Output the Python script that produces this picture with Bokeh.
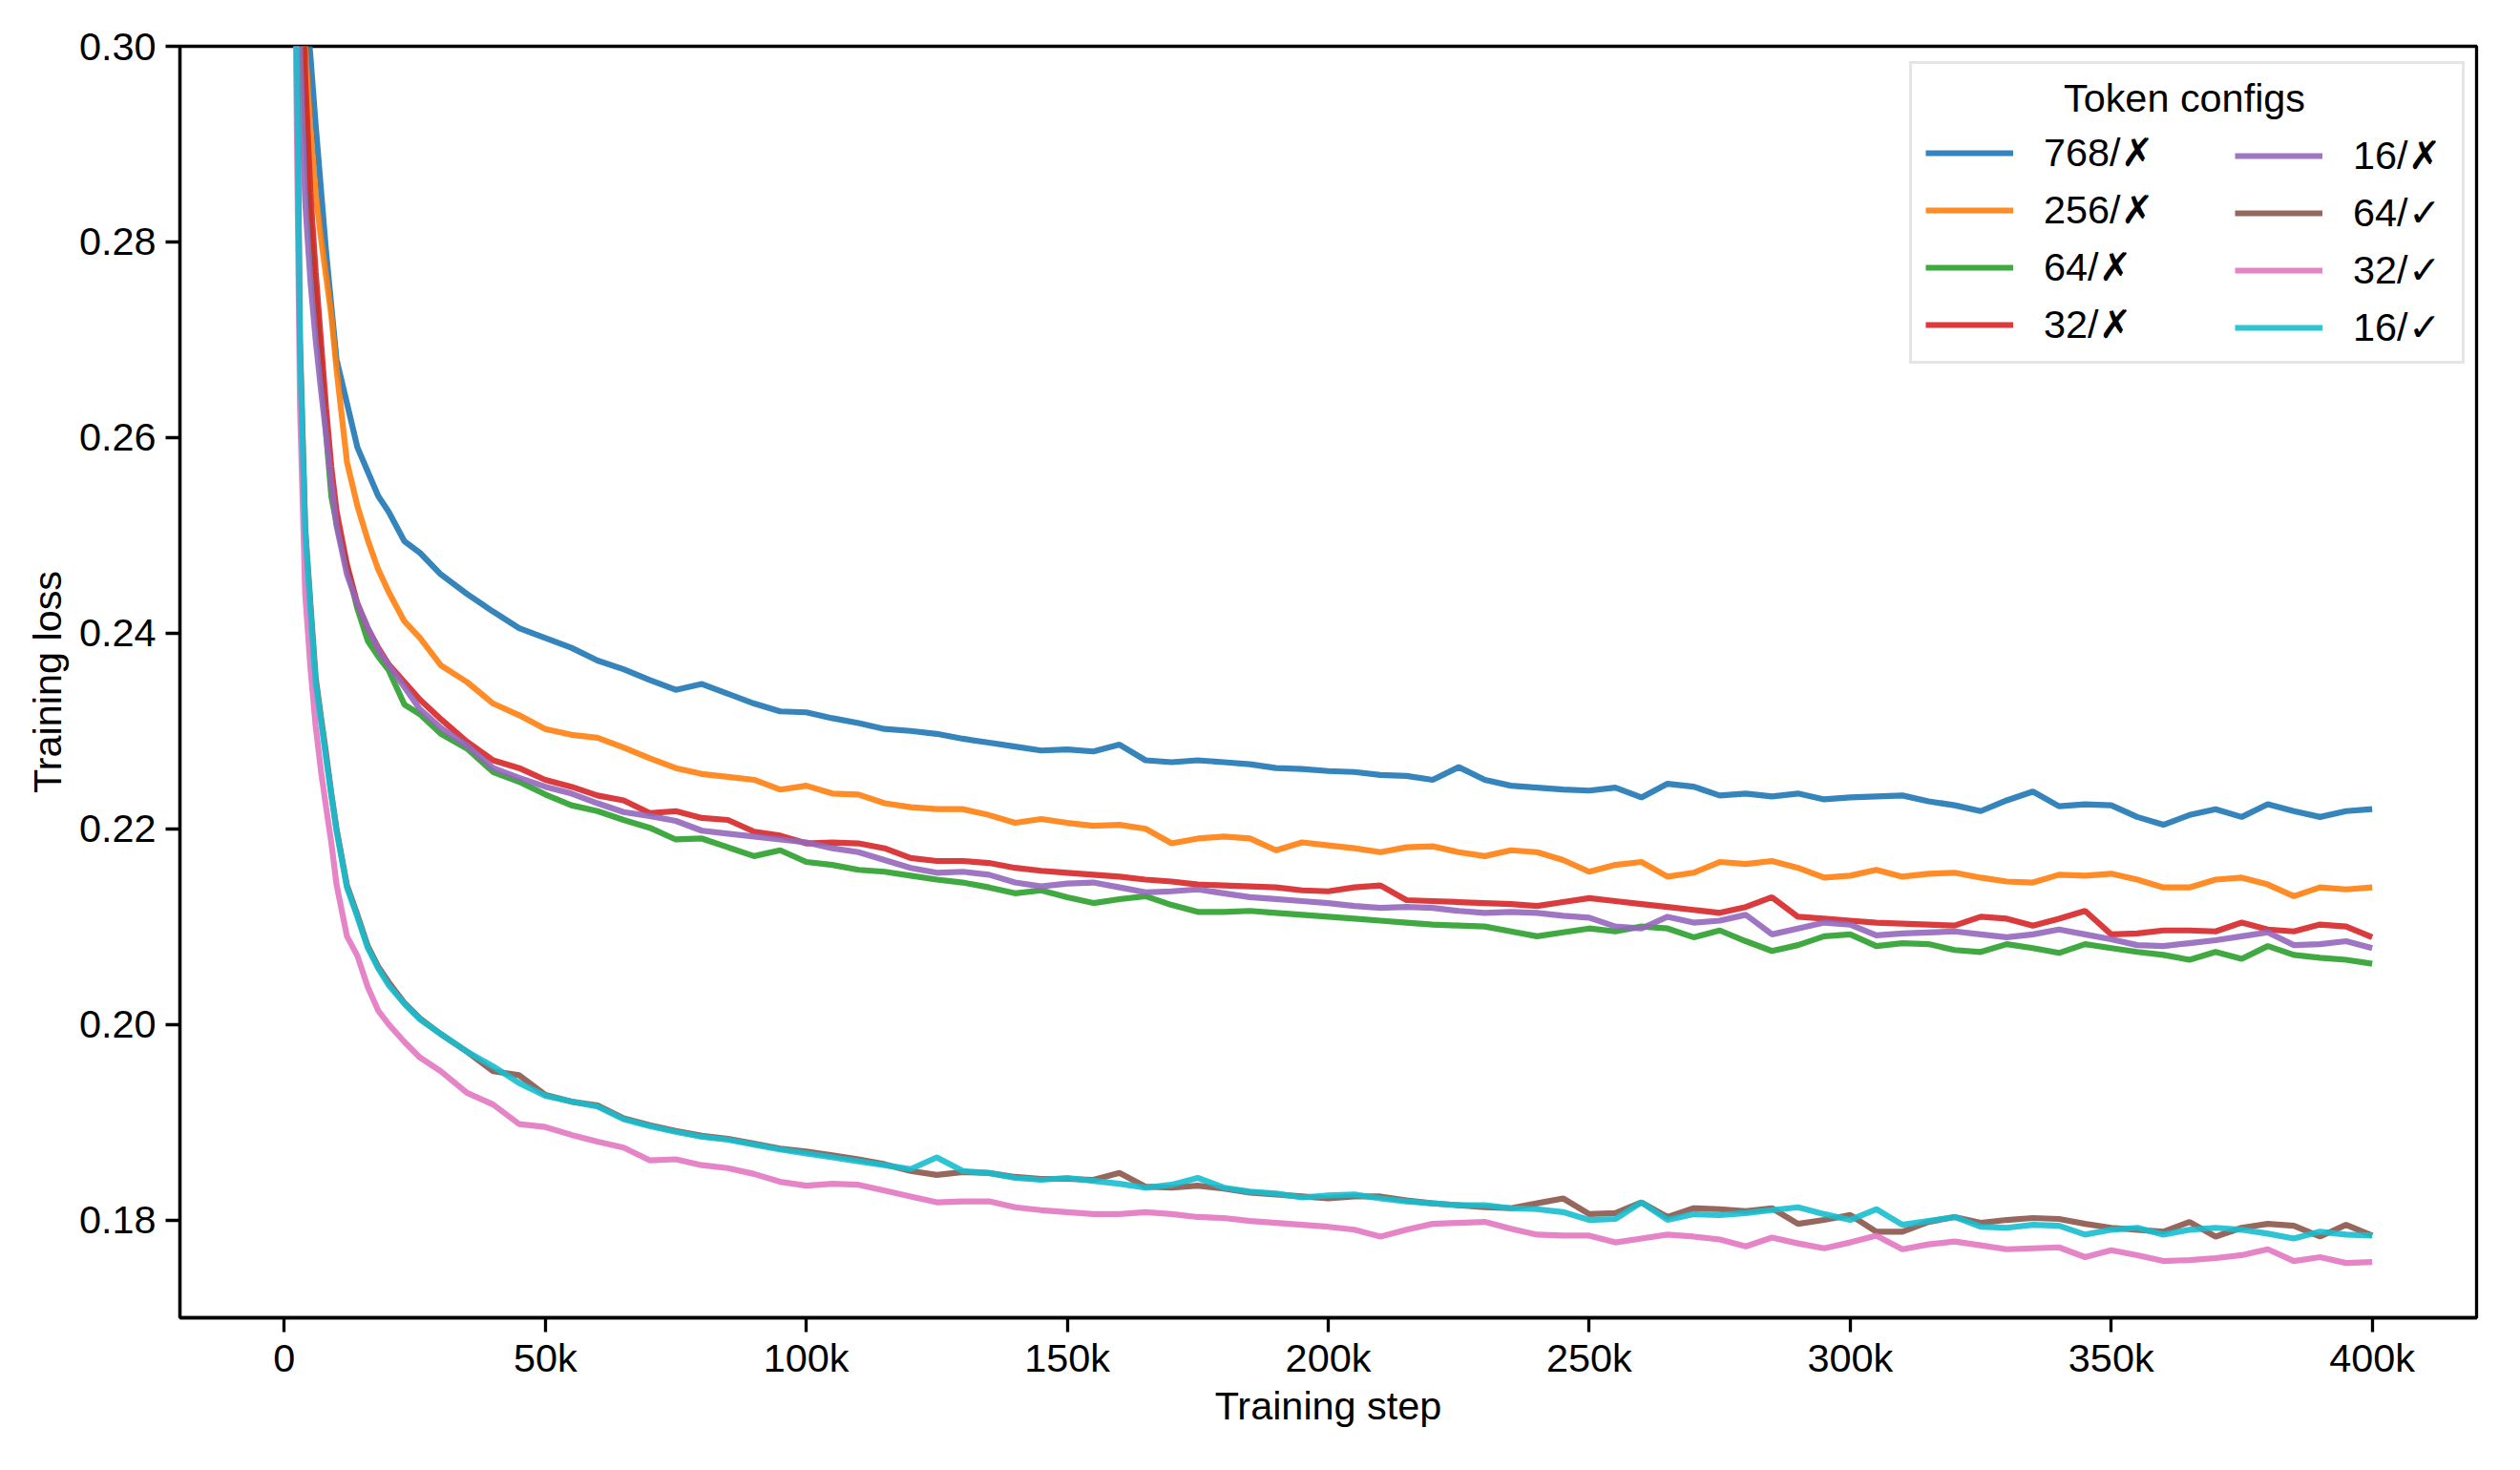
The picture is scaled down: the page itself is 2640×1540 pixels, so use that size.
from bokeh.plotting import figure
from bokeh.models import Range1d, FixedTicker, Legend, LegendItem, PrintfTickFormatter, Label
from bokeh.embed import file_html
from bokeh.resources import INLINE

# training steps (in thousands)
steps_k = [1, 2, 3, 4, 5, 6, 7, 8, 9, 10, 12, 14, 16, 18, 20, 23, 26, 30, 35, 40, 45] + list(range(50, 401, 5))

loss_768_x = [0.42, 0.36, 0.33, 0.305, 0.299, 0.292, 0.2855, 0.279, 0.2735, 0.268, 0.2635, 0.2590, 0.2565, 0.2540, 0.2524, 0.2494, 0.2482, 0.2460, 0.2440, 0.2422, 0.2405,
              0.2395, 0.2385, 0.2372, 0.2363, 0.2352, 0.2342, 0.2348, 0.2338, 0.2328, 0.2320, 0.2319,
              0.2313, 0.2308, 0.2302, 0.2300, 0.2297, 0.2292, 0.2288, 0.2284, 0.2280, 0.2281,
              0.2279, 0.2286, 0.2270, 0.2268, 0.2270, 0.2268, 0.2266, 0.2262, 0.2261, 0.2259,
              0.2258, 0.2255, 0.2254, 0.2250, 0.2263, 0.2250, 0.2244, 0.2242, 0.2240, 0.2239,
              0.2242, 0.2232, 0.2246, 0.2243, 0.2234, 0.2236, 0.2233, 0.2236, 0.2230, 0.2232,
              0.2233, 0.2234, 0.2228, 0.2224, 0.2218, 0.2229, 0.2238, 0.2223, 0.2225, 0.2224,
              0.2212, 0.2204, 0.2214, 0.2220, 0.2212, 0.2225, 0.2218, 0.2212, 0.2218, 0.2220]

loss_256_x = [0.42, 0.35, 0.32, 0.300, 0.2915, 0.2850, 0.2805, 0.2765, 0.2725, 0.2670, 0.2575, 0.2530, 0.2495, 0.2465, 0.2442, 0.2412, 0.2395, 0.2367, 0.2350, 0.2328, 0.2316,
              0.2302, 0.2296, 0.2293, 0.2283, 0.2272, 0.2262, 0.2256, 0.2253, 0.2250, 0.2240, 0.2244,
              0.2236, 0.2235, 0.2226, 0.2222, 0.2220, 0.2220, 0.2214, 0.2206, 0.2210, 0.2206,
              0.2203, 0.2204, 0.2200, 0.2185, 0.2190, 0.2192, 0.2190, 0.2178, 0.2186, 0.2183,
              0.2180, 0.2176, 0.2181, 0.2182, 0.2176, 0.2172, 0.2178, 0.2176, 0.2168, 0.2156,
              0.2163, 0.2166, 0.2151, 0.2155, 0.2166, 0.2164, 0.2167, 0.2160, 0.2150, 0.2152,
              0.2158, 0.2151, 0.2154, 0.2155, 0.2150, 0.2146, 0.2145, 0.2153, 0.2152, 0.2154,
              0.2148, 0.2140, 0.2140, 0.2148, 0.2150, 0.2143, 0.2131, 0.2140, 0.2138, 0.2140]

loss_64_x = [0.42, 0.35, 0.31, 0.2915, 0.2820, 0.2745, 0.2680, 0.2605, 0.2540, 0.2512, 0.2468, 0.2425, 0.2392, 0.2376, 0.2362, 0.2327, 0.2317, 0.2297, 0.2282, 0.2258, 0.2248,
             0.2235, 0.2224, 0.2218, 0.2209, 0.2201, 0.2189, 0.2190, 0.2181, 0.2172, 0.2178, 0.2166,
             0.2163, 0.2158, 0.2156, 0.2152, 0.2148, 0.2145, 0.2140, 0.2134, 0.2137, 0.2130,
             0.2124, 0.2128, 0.2131, 0.2122, 0.2115, 0.2115, 0.2116, 0.2114, 0.2112, 0.2110,
             0.2108, 0.2106, 0.2104, 0.2102, 0.2101, 0.2100, 0.2095, 0.2090, 0.2094, 0.2098,
             0.2095, 0.2100, 0.2098, 0.2089, 0.2096, 0.2085, 0.2075, 0.2081, 0.2090, 0.2092,
             0.2080, 0.2083, 0.2082, 0.2076, 0.2074, 0.2082, 0.2078, 0.2073, 0.2082, 0.2078,
             0.2074, 0.2071, 0.2066, 0.2074, 0.2067, 0.2080, 0.2071, 0.2068, 0.2066, 0.2062]

loss_32_x = [0.42, 0.36, 0.32, 0.297, 0.285, 0.277, 0.270, 0.263, 0.257, 0.2525, 0.2470, 0.2430, 0.2405, 0.2385, 0.2368, 0.2350, 0.2332, 0.2312, 0.2289, 0.2270, 0.2262,
             0.2250, 0.2243, 0.2234, 0.2229, 0.2216, 0.2218, 0.2211, 0.2209, 0.2197, 0.2193, 0.2185,
             0.2186, 0.2185, 0.2180, 0.2170, 0.2167, 0.2167, 0.2165, 0.2160, 0.2157, 0.2155,
             0.2153, 0.2151, 0.2148, 0.2146, 0.2143, 0.2142, 0.2141, 0.2140, 0.2137, 0.2136,
             0.2140, 0.2142, 0.2127, 0.2126, 0.2125, 0.2124, 0.2123, 0.2121, 0.2125, 0.2129,
             0.2126, 0.2123, 0.2120, 0.2117, 0.2114, 0.2120, 0.2130, 0.2110, 0.2108, 0.2106,
             0.2104, 0.2103, 0.2102, 0.2101, 0.2110, 0.2108, 0.2101, 0.2108, 0.2116, 0.2092,
             0.2093, 0.2096, 0.2096, 0.2095, 0.2104, 0.2097, 0.2095, 0.2102, 0.2100, 0.2089]

loss_16_x = [0.42, 0.34, 0.300, 0.2841, 0.2760, 0.2700, 0.2650, 0.2603, 0.2553, 0.2510, 0.2460, 0.2430, 0.2405, 0.2383, 0.2367, 0.2345, 0.2322, 0.2303, 0.2285, 0.2262, 0.2252,
             0.2243, 0.2236, 0.2226, 0.2217, 0.2213, 0.2208, 0.2198, 0.2195, 0.2192, 0.2189, 0.2186,
             0.2180, 0.2176, 0.2168, 0.2160, 0.2155, 0.2156, 0.2153, 0.2145, 0.2141, 0.2144,
             0.2145, 0.2140, 0.2135, 0.2136, 0.2138, 0.2134, 0.2130, 0.2128, 0.2126, 0.2124,
             0.2121, 0.2119, 0.2120, 0.2119, 0.2116, 0.2114, 0.2115, 0.2114, 0.2111, 0.2109,
             0.2100, 0.2098, 0.2110, 0.2104, 0.2106, 0.2112, 0.2092, 0.2098, 0.2104, 0.2102,
             0.2091, 0.2093, 0.2094, 0.2095, 0.2092, 0.2089, 0.2092, 0.2097, 0.2092, 0.2087,
             0.2081, 0.2080, 0.2083, 0.2086, 0.2090, 0.2094, 0.2081, 0.2082, 0.2085, 0.2078]

loss_64_v = [0.45, 0.32, 0.2700, 0.2507, 0.2430, 0.2355, 0.2315, 0.2277, 0.2236, 0.2200, 0.2142, 0.2112, 0.2080, 0.2059, 0.2043, 0.2022, 0.2006, 0.1990, 0.1972, 0.1952, 0.1948,
             0.1928, 0.1921, 0.1917, 0.1904, 0.1897, 0.1891, 0.1886, 0.1883, 0.1878, 0.1873, 0.1870,
             0.1866, 0.1862, 0.1857, 0.1850, 0.1846, 0.1849, 0.1848, 0.1844, 0.1842, 0.1842,
             0.1841, 0.1848, 0.1834, 0.1833, 0.1835, 0.1832, 0.1828, 0.1826, 0.1824, 0.1822,
             0.1824, 0.1824, 0.1820, 0.1817, 0.1815, 0.1813, 0.1812, 0.1817, 0.1822, 0.1806,
             0.1807, 0.1818, 0.1803, 0.1812, 0.1811, 0.1809, 0.1812, 0.1796, 0.1800, 0.1805,
             0.1788, 0.1788, 0.1798, 0.1803, 0.1797, 0.1800, 0.1802, 0.1801, 0.1796, 0.1792,
             0.1790, 0.1788, 0.1798, 0.1783, 0.1792, 0.1796, 0.1794, 0.1783, 0.1795, 0.1784]

loss_32_v = [0.45, 0.31, 0.2632, 0.2440, 0.2365, 0.2305, 0.2260, 0.2222, 0.2186, 0.2143, 0.2090, 0.2070, 0.2038, 0.2014, 0.2000, 0.1982, 0.1966, 0.1952, 0.1930, 0.1918, 0.1898,
             0.1895, 0.1887, 0.1880, 0.1874, 0.1861, 0.1862, 0.1856, 0.1853, 0.1847, 0.1839, 0.1835,
             0.1837, 0.1836, 0.1830, 0.1824, 0.1818, 0.1819, 0.1819, 0.1813, 0.1810, 0.1808,
             0.1806, 0.1806, 0.1808, 0.1806, 0.1803, 0.1802, 0.1799, 0.1797, 0.1795, 0.1793,
             0.1790, 0.1783, 0.1790, 0.1796, 0.1797, 0.1798, 0.1791, 0.1785, 0.1784, 0.1784,
             0.1777, 0.1781, 0.1785, 0.1783, 0.1780, 0.1773, 0.1782, 0.1776, 0.1771, 0.1777,
             0.1784, 0.1770, 0.1775, 0.1778, 0.1774, 0.1770, 0.1771, 0.1772, 0.1762, 0.1769,
             0.1764, 0.1758, 0.1759, 0.1761, 0.1764, 0.1770, 0.1758, 0.1762, 0.1756, 0.1757]

loss_16_v = [0.45, 0.32, 0.2690, 0.2505, 0.2425, 0.2350, 0.2312, 0.2272, 0.2235, 0.2198, 0.2140, 0.2110, 0.2078, 0.2057, 0.2040, 0.2021, 0.2005, 0.1990, 0.1972, 0.1957, 0.1940,
             0.1927, 0.1921, 0.1916, 0.1903, 0.1896, 0.1890, 0.1885, 0.1882, 0.1877, 0.1872, 0.1868,
             0.1864, 0.1860, 0.1856, 0.1852, 0.1864, 0.1850, 0.1848, 0.1843, 0.1841, 0.1843,
             0.1840, 0.1837, 0.1833, 0.1836, 0.1843, 0.1833, 0.1829, 0.1827, 0.1823, 0.1825,
             0.1826, 0.1822, 0.1819, 0.1817, 0.1815, 0.1815, 0.1812, 0.1811, 0.1808, 0.1800,
             0.1801, 0.1818, 0.1800, 0.1806, 0.1805, 0.1807, 0.1810, 0.1813, 0.1806, 0.1800,
             0.1811, 0.1795, 0.1799, 0.1803, 0.1793, 0.1792, 0.1795, 0.1794, 0.1785, 0.1790,
             0.1792, 0.1785, 0.1790, 0.1792, 0.1790, 0.1786, 0.1781, 0.1788, 0.1785, 0.1784]

series_labels = ["768/✗", "256/✗", "64/✗", "32/✗", "16/✗", "64/✓", "32/✓", "16/✓"]
series_values = [loss_768_x, loss_256_x, loss_64_x, loss_32_x, loss_16_x, loss_64_v, loss_32_v, loss_16_v]
series_colors = ["#1f77b4", "#ff7f0e", "#2ca02c", "#d62728", "#9467bd", "#8c564b", "#e377c2", "#17becf"]
legend_title = "Token configs"

x_ticks = [0, 50000, 100000, 150000, 200000, 250000, 300000, 350000, 400000]
x_tick_labels = ["0", "50k", "100k", "150k", "200k", "250k", "300k", "350k", "400k"]
y_ticks = [0.18, 0.20, 0.22, 0.24, 0.26, 0.28, 0.30]

FONT = "Liberation Sans"
FS = "41.4px"

steps = [k * 1000 for k in steps_k]

p = figure(width=2624, height=1524, output_backend="svg", toolbar_location=None,
           x_range=Range1d(-20000, 420000), y_range=Range1d(0.17, 0.30),
           min_border_left=188, min_border_right=30, min_border_top=48, min_border_bottom=144)
p.background_fill_color = "white"
p.border_fill_color = "white"
p.outline_line_color = "black"
p.outline_line_width = 3.3
p.xgrid.visible = False
p.ygrid.visible = False

renderers = []
for lab, vals, col in zip(series_labels, series_values, series_colors):
    r = p.line(steps, vals, line_color=col, line_width=6.2, line_alpha=0.9)
    renderers.append(r)

for ax in (p.xaxis[0], p.yaxis[0]):
    ax.axis_line_width = 3.3
    ax.major_tick_line_width = 3.3
    ax.major_tick_out = 15
    ax.major_tick_in = 0
    ax.minor_tick_line_color = None
    ax.major_label_text_font = FONT
    ax.major_label_text_font_size = FS
    ax.major_label_text_color = "black"
    ax.axis_label_text_font = FONT
    ax.axis_label_text_font_size = FS
    ax.axis_label_text_font_style = "normal"
    ax.axis_label_text_color = "black"

p.xaxis.ticker = FixedTicker(ticks=x_ticks)
p.xaxis.major_label_overrides = {t: l for t, l in zip(x_ticks, x_tick_labels)}
p.xaxis.major_label_standoff = 4
p.xaxis.axis_label = "Training step"
p.xaxis.axis_label_standoff = 1

p.yaxis.ticker = FixedTicker(ticks=y_ticks)
p.yaxis.formatter = PrintfTickFormatter(format="%.2f")
p.yaxis.major_label_standoff = 10
p.yaxis.axis_label = "Training loss"
p.yaxis.axis_label_standoff = 7

common = dict(title=legend_title, title_text_font=FONT, title_text_font_size=FS,
              title_text_font_style="normal", title_text_alpha=0.0, title_standoff=8,
              label_text_font=FONT, label_text_font_size=FS, label_text_color="black",
              glyph_width=92, glyph_height=20, label_standoff=32, spacing=12,
              padding=14, margin=0)

items_a = [LegendItem(label=lab, renderers=[r]) for lab, r in zip(series_labels[:4], renderers[:4])]
items_b = [LegendItem(label=lab, renderers=[r]) for lab, r in zip(series_labels[4:], renderers[4:])]

legend_a = Legend(items=items_a, location=(1812, 999), label_width=424,
                  border_line_color="#cccccc", border_line_width=3,
                  background_fill_color="white", background_fill_alpha=0.0, **common)
legend_b = Legend(items=items_b, location=(2139, 999),
                  border_line_alpha=0.0, background_fill_alpha=0.0, **common)
p.add_layout(legend_a)
p.add_layout(legend_b)

title_label = Label(x=2100, y=1278, x_units="screen", y_units="screen", text=legend_title,
                    text_align="center", text_baseline="middle", text_font=FONT,
                    text_font_size=FS, text_color="black", level="overlay")
p.add_layout(title_label)

open("out.html", "w").write(file_html(p, INLINE))
